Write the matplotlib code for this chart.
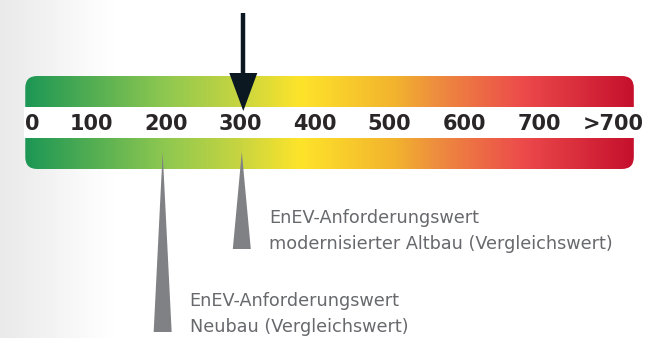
import numpy as np
import matplotlib
matplotlib.use("Agg")
import matplotlib.pyplot as plt
from matplotlib.colors import LinearSegmentedColormap
from matplotlib.patches import FancyBboxPatch, Polygon

# Scale (kWh/(m²·a))
tick_values = [0, 100, 200, 300, 400, 500, 600, 700, 800]
tick_labels = ["0", "100", "200", "300", "400", "500", "600", "700", ">700"]
scale_start, scale_end = 12, 827

# Gradient stops along the scale
stop_values = [12, 200, 300, 380, 510, 560, 680, 827]
stop_colors = ["#1d9755", "#8fc850", "#c8d540", "#fee42a", "#f2b22e",
               "#ee8f3e", "#ec4a4b", "#c6102d"]

# Markers
current_value = 304
references = [
    {"value": 196, "lines": ["EnEV-Anforderungswert", "Neubau (Vergleichswert)"], "length": 180},
    {"value": 302, "lines": ["EnEV-Anforderungswert", "modernisierter Altbau (Vergleichswert)"], "length": 97},
]

W, H = 655, 338
fig = plt.figure(figsize=(W / 100, H / 100), dpi=100)
ax = fig.add_axes([0, 0, 1, 1])
px_per_unit = 0.7467
x0 = -16.3 / px_per_unit
ax.set_xlim(x0, x0 + W / px_per_unit)
ax.set_ylim(H, 0)
ax.axis("off")

# soft grey shading on the left edge
bg = np.linspace(0, 1, 512)
bg_cmap = LinearSegmentedColormap.from_list(
    "bg", [(0, "#eaeaea"), (0.06, "#f1f1f1"), (0.12, "#f9f9f9"), (0.17, "#ffffff"), (1, "#ffffff")])
ax.imshow(bg[None, :], cmap=bg_cmap, extent=(x0, x0 + W / px_per_unit, H, 0),
          aspect="auto", zorder=0)

# gradient bar with rounded ends
span = scale_end - scale_start
nodes = [(v - scale_start) / span for v in stop_values]
cmap = LinearSegmentedColormap.from_list("scale", list(zip(nodes, stop_colors)))
bar_top, bar_bot = 76, 169
grad = np.linspace(0, 1, 512)
im = ax.imshow(grad[None, :], cmap=cmap, extent=(scale_start, scale_end, bar_bot, bar_top),
               aspect="auto", zorder=1)
r = 12
box = FancyBboxPatch((scale_start, bar_top), span, bar_bot - bar_top,
                     boxstyle=f"round,pad=0,rounding_size={r / px_per_unit}",
                     mutation_aspect=px_per_unit, transform=ax.transData,
                     facecolor="none", edgecolor="none")
ax.add_patch(box)
im.set_clip_path(box)

# white band carrying the tick labels
ax.fill_between([scale_start - 2, scale_end + 2], 107, 138, color="white", zorder=2, lw=0)

for v, lab in zip(tick_values, tick_labels):
    xv = scale_start if v == 0 else v
    ax.text(xv, 130.5, lab, ha="left" if v == 0 else "center", va="baseline",
            fontsize=15, fontweight="bold", color="#2a2627",
            family="DejaVu Sans", zorder=3)

# current value arrow: shaft plus triangular head
arrow_color = "#0b1822"
ax.plot([current_value, current_value], [13, 80], color=arrow_color, lw=3.2,
        solid_capstyle="butt", zorder=4)
head_half = 14 / px_per_unit
ax.add_patch(Polygon([(current_value - head_half, 73), (current_value + head_half, 73),
                      (current_value, 111)], closed=True, facecolor=arrow_color,
                     edgecolor="none", zorder=4))

# reference wedges with captions
half_w = 9 / px_per_unit
for ref in references:
    v = ref["value"]
    tip = 152
    base = tip + ref["length"]
    ax.add_patch(Polygon([(v, tip), (v - half_w, base), (v + half_w, base)],
                         closed=True, facecolor="#808185", edgecolor="none", zorder=3))
    for i, line in enumerate(ref["lines"]):
        ax.text(v + 27 / px_per_unit, base - 26 * (len(ref["lines"]) - 1 - i), line,
                ha="left", va="baseline", fontsize=12.7, color="#68696d",
                family="DejaVu Sans", zorder=3)

fig.savefig("out.png", dpi=100)
